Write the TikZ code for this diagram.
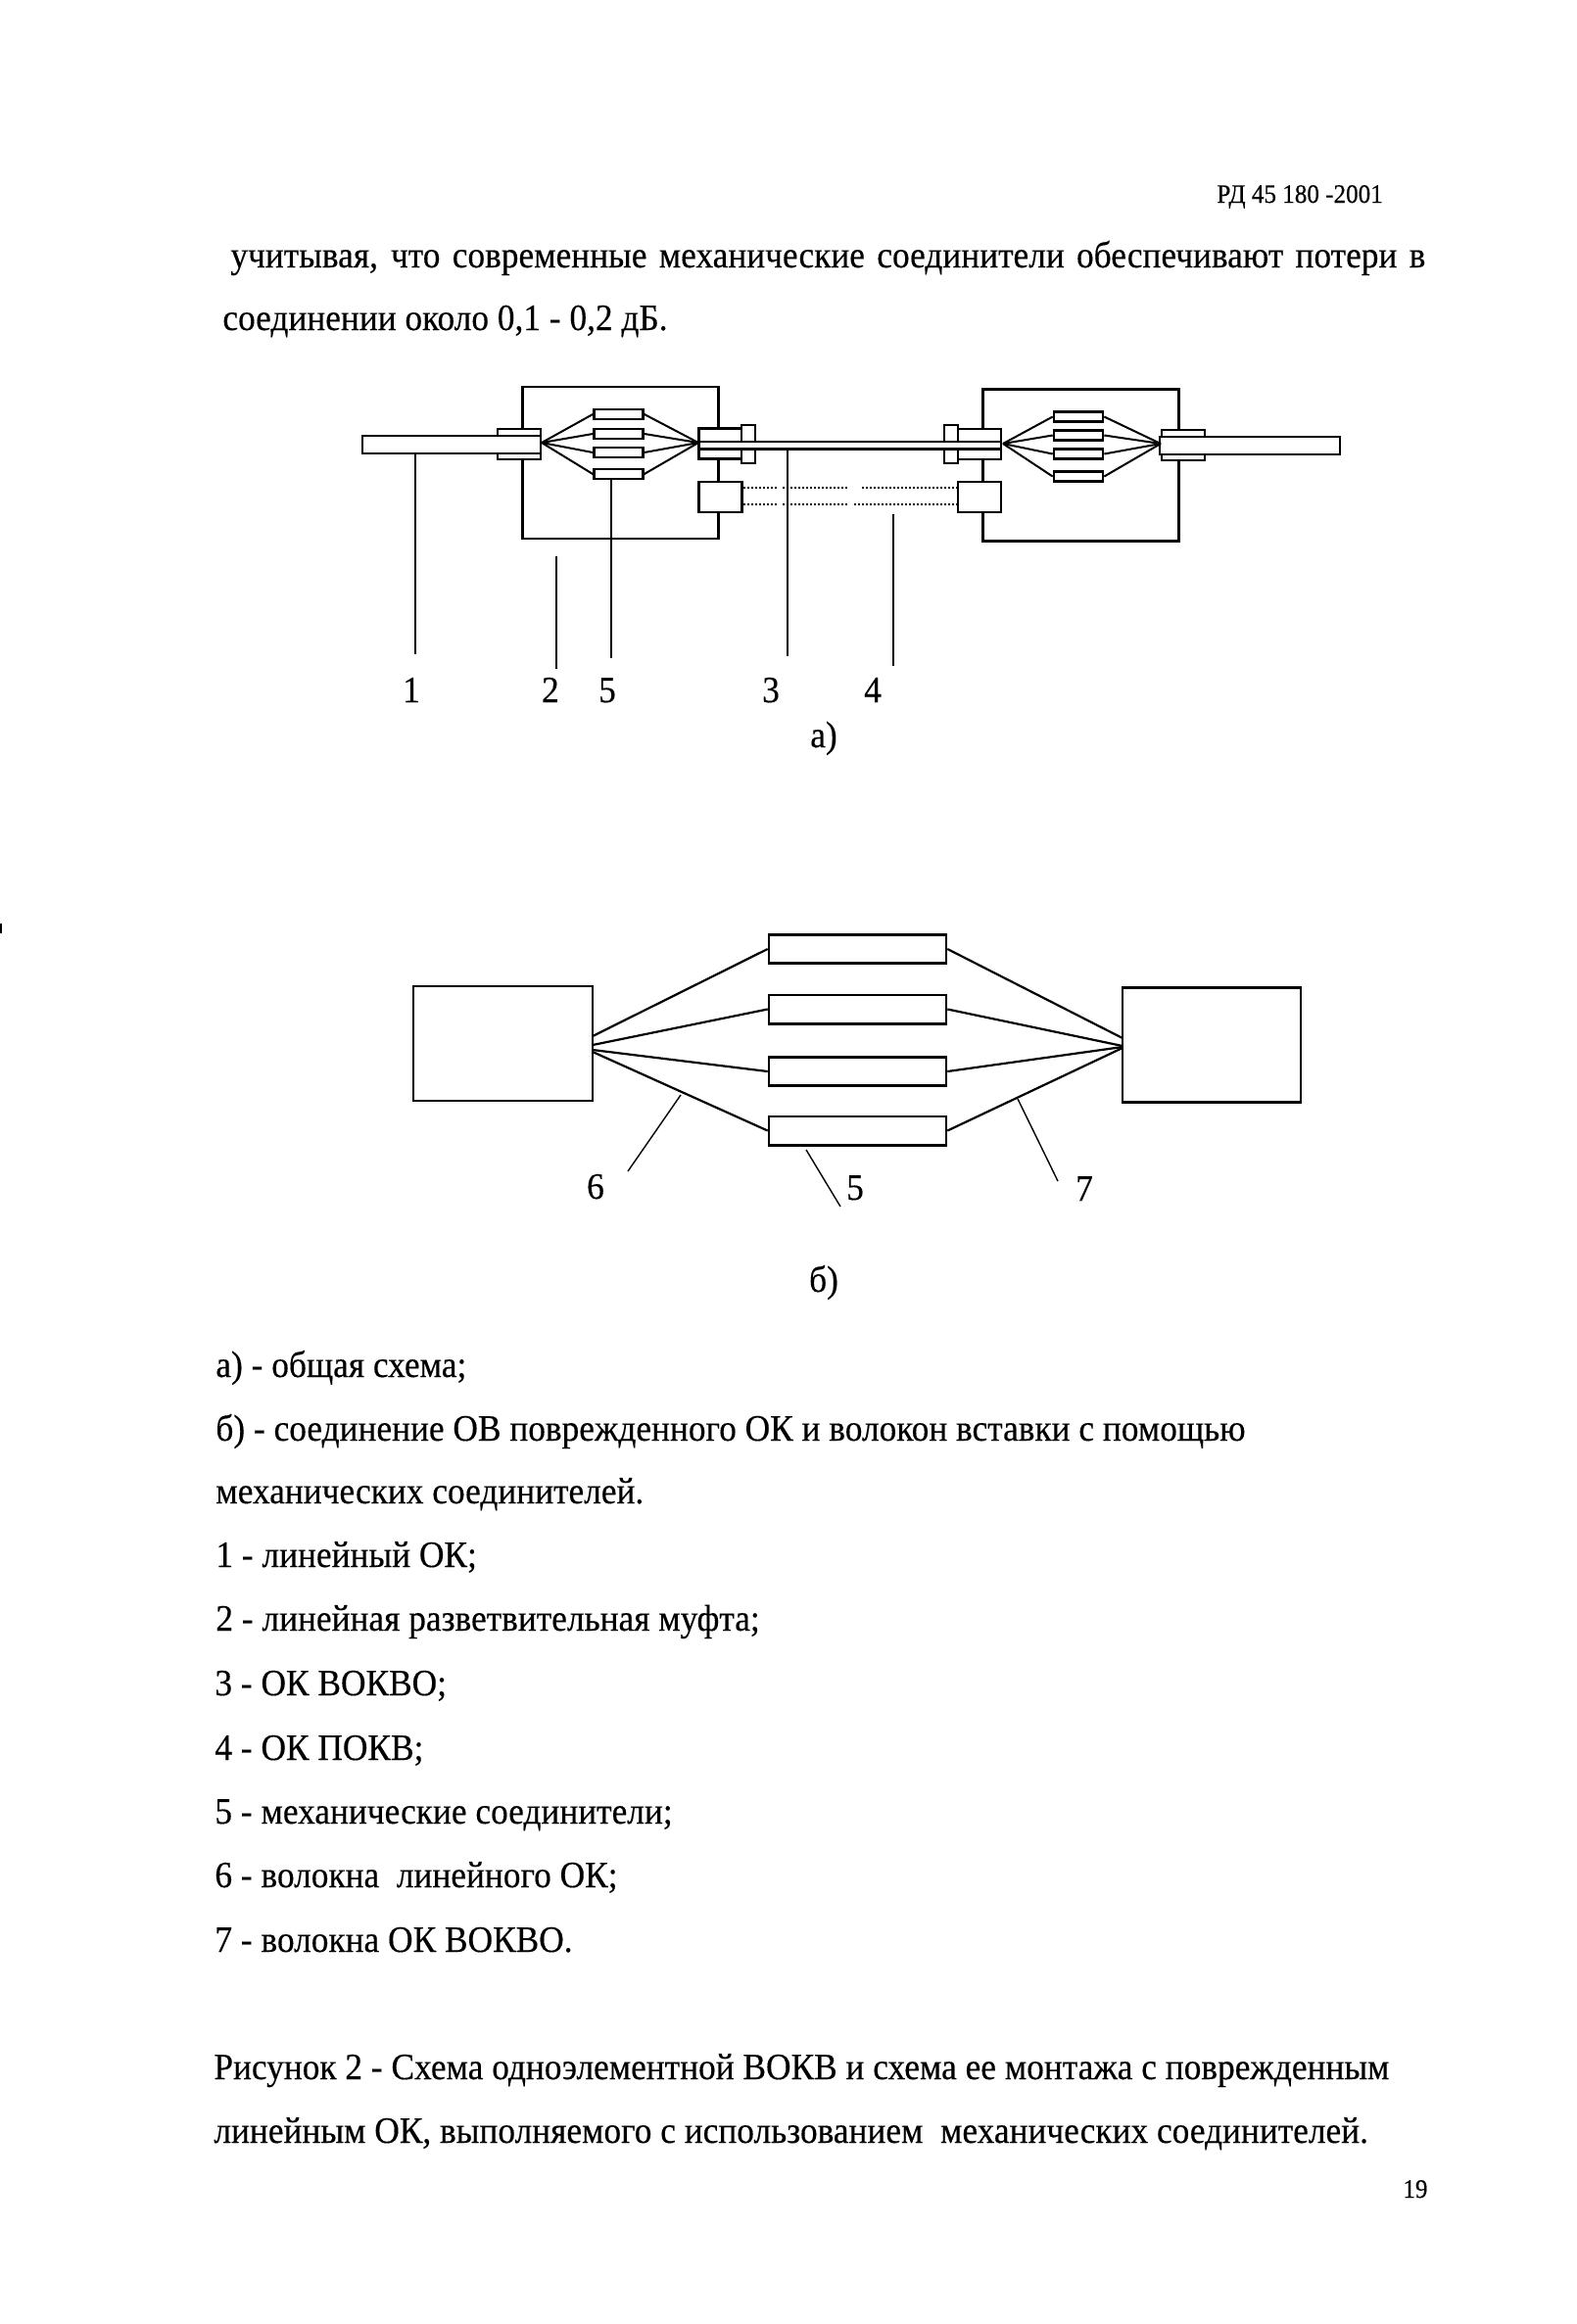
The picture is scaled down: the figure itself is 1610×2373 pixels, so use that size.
\documentclass[tikz,border=0pt]{standalone}
\usepackage{fontspec}
\setmainfont[FakeStretch=0.93,FakeBold=0.3]{Liberation Serif}
\usetikzlibrary{calc,positioning}

\begin{document}
\begin{tikzpicture}[x=0.5pt,y=-0.5pt]
		\tikzstyle{txt}=[anchor=base west,inner sep=0pt,font=\fontsize{19}{22}\selectfont]
		\tikzstyle{num}=[anchor=base,inner sep=0pt,font=\fontsize{19}{22}\selectfont]
		\tikzstyle{small}=[anchor=base west,inner sep=0pt,font=\fontsize{13.5}{15}\selectfont]
		\tikzstyle{part}=[draw,fill=white,line width=1.3pt,inner sep=0pt]
		\tikzstyle{joint}=[part,minimum width=25pt,minimum height=5pt]
		\tikzstyle{fibre}=[line width=1pt]
		\tikzstyle{leader}=[line width=1pt]
		\tikzstyle{dots}=[line width=1pt,dash pattern=on 1pt off 1pt]
		\tikzstyle{partb}=[draw,fill=white,line width=1.3pt,inner sep=0pt]
		\tikzstyle{jointb}=[partb,minimum width=90.5pt,minimum height=14.7pt]
		\tikzstyle{fibreb}=[line width=1.1pt]
		\tikzstyle{leaderb}=[line width=0.7pt]

		\useasboundingbox (0,0) rectangle (1610,2373);
		\fill[white] (0,0) rectangle (1610,2373);
		\node[fill=black,inner sep=0pt,minimum width=0.8pt,minimum height=5pt](speck) at (0.8,948){};

		% text above
		\node[small](head) at (1242,207){РД 45 180 -2001};
		\node[txt](t1) at (235,273){\hbox to 610pt{\spaceskip=.25em plus 1fil\relax учитывая, что современные механические соединители обеспечивают потери в}};
		\node[txt](t2) at (227,337){соединении около 0,1 - 0,2 дБ.};

		% left splice box
		\node[part,minimum width=100pt,minimum height=77.5pt](box1) at (633.5,472.5){};
		\node[part,minimum width=100pt,minimum height=77.5pt](box2) at (1103.5,475){};

		\node[part,minimum width=22pt,minimum height=15.5pt](col1) at (530,453.5){};
		\node[part,minimum width=91pt,minimum height=9pt](cab1) at (461,454){};
		\node[part,minimum width=22pt,minimum height=15.5pt](col2) at (735.5,453){};
		\node[part,minimum width=7pt,minimum height=19.5pt](fla2) at (764,453.5){};
		\node[part,minimum width=22pt,minimum height=15.5pt](sb1) at (735.5,507.5){};

		\coordinate(fan1) at (553,452);
		\coordinate(fan2) at (713,452);
		\node[joint](sa1) at (631.5,423){};
		\node[joint](sa2) at (631.5,443){};
		\node[joint](sa3) at (631.5,462){};
		\node[joint](sa4) at (631.5,484){};
		\draw[fibre] (fan1) -- (sa1.west);
		\draw[fibre] (fan1) -- (sa2.west);
		\draw[fibre] (fan1) -- (sa3.west);
		\draw[fibre] (fan1) -- (sa4.west);
		\draw[fibre] (sa1.east) -- (fan2);
		\draw[fibre] (sa2.east) -- (fan2);
		\draw[fibre] (sa3.east) -- (fan2);
		\draw[fibre] (sa4.east) -- (fan2);

		% right splice box
		\node[part,minimum width=22pt,minimum height=15.5pt](col3) at (1000,453.5){};
		\node[part,minimum width=7pt,minimum height=19.5pt](fla3) at (971,453.5){};
		\node[part,minimum width=22pt,minimum height=15.5pt](sb2) at (1000,507.5){};
		\node[part,minimum width=22pt,minimum height=15.5pt](col4) at (1208,454.5){};
		\node[part,minimum width=92pt,minimum height=9pt](cab2) at (1276,455){};

		\coordinate(fan3) at (1024,453);
		\coordinate(fan4) at (1185,453);
		\node[joint](sc1) at (1101,425.5){};
		\node[joint](sc2) at (1101,444.5){};
		\node[joint](sc3) at (1101,463.5){};
		\node[joint](sc4) at (1101,486.5){};
		\draw[fibre] (fan3) -- (sc1.west);
		\draw[fibre] (fan3) -- (sc2.west);
		\draw[fibre] (fan3) -- (sc3.west);
		\draw[fibre] (fan3) -- (sc4.west);
		\draw[fibre] (sc1.east) -- (fan4);
		\draw[fibre] (sc2.east) -- (fan4);
		\draw[fibre] (sc3.east) -- (fan4);
		\draw[fibre] (sc4.east) -- (fan4);

		% insert cables
		\node[part,minimum width=154pt,minimum height=3.7pt](cab3) at (868,454.5){};
		\coordinate(d1a) at (793,498);
		\coordinate(d1b) at (799,498);
		\coordinate(d1c) at (867,498);
		\coordinate(d1d) at (880,498);
		\coordinate(d2a) at (793,515);
		\coordinate(d2b) at (799,515);
		\coordinate(d2c) at (865,515);
		\coordinate(d2d) at (872,515);
		\draw[dots] ([yshift=4.75pt]sb1.east) -- (d1a);
		\draw[dots] (d1b) -- (d1c);
		\draw[dots] (d1d) -- ([yshift=4.75pt]sb2.west);
		\draw[dots] ([yshift=-3.75pt]sb1.east) -- (d2a);
		\draw[dots] (d2b) -- (d2c);
		\draw[dots] (d2d) -- ([yshift=-3.75pt]sb2.west);

		% leaders of a)
		\coordinate(l1) at (424,668);
		\coordinate(l2a) at (568,568);
		\coordinate(l2) at (568,683);
		\coordinate(l5) at (624,672);
		\coordinate(l3) at (804,670);
		\coordinate(l4a) at (912,525);
		\coordinate(l4) at (912,680);
		\draw[leader] (cab1.south -| l1) -- (l1);
		\draw[leader] (l2a) -- (l2);
		\draw[leader] (sa4.south -| l5) -- (l5);
		\draw[leader] (cab3.south -| l3) -- (l3);
		\draw[leader] (l4a) -- (l4);

		\node[num](n1) at (420,717){1};
		\node[num](n2) at (562,717){2};
		\node[num](n5) at (620,717){5};
		\node[num](n3) at (787,717){3};
		\node[num](n4) at (891,717){4};
		\node[num](capa) at (841,763){а)};

		% picture b)
		\node[partb,minimum width=91.5pt,minimum height=58.5pt](lbox) at (513.5,1065.5){};
		\node[partb,minimum width=91pt,minimum height=58.5pt](rbox) at (1237,1067){};
		\node[jointb](r1) at (875.5,969){};
		\node[jointb](r2) at (875.5,1030.5){};
		\node[jointb](r3) at (875.5,1094){};
		\node[jointb](r4) at (875.5,1154.5){};

		\coordinate(a1) at (605,1058);
		\coordinate(a2) at (605,1067);
		\coordinate(a3) at (605,1072);
		\coordinate(a4) at (605,1074);
		\coordinate(b1) at (1146,1060);
		\coordinate(b2) at (1146,1068);
		\coordinate(b3) at (1146,1069);
		\coordinate(b4) at (1146,1070);
		\draw[fibreb] (a1) -- (r1.west);
		\draw[fibreb] (a2) -- (r2.west);
		\draw[fibreb] (a3) -- (r3.west);
		\draw[fibreb] (a4) -- (r4.west);
		\draw[fibreb] (r1.east) -- (b1);
		\draw[fibreb] (r2.east) -- (b2);
		\draw[fibreb] (r3.east) -- (b3);
		\draw[fibreb] (r4.east) -- (b4);

		\coordinate(l6a) at (695,1118);
		\coordinate(l6) at (641,1196);
		\coordinate(l5a) at (823,1174);
		\coordinate(l5b) at (858,1232);
		\coordinate(l7a) at (1039,1122);
		\coordinate(l7) at (1080,1206);
		\draw[leaderb] (l6a) -- (l6);
		\draw[leaderb] (l5a) -- (l5b);
		\draw[leaderb] (l7a) -- (l7);

		\node[num](n6b) at (608,1224){6};
		\node[num](n5b) at (873,1225){5};
		\node[num](n7b) at (1107,1226){7};
		\node[num](capb) at (841,1319){б)};

		% text below
		\node[txt](k1) at (220,1406){а) - общая схема;};
		\node[txt](k2) at (220,1471){б) - соединение ОВ поврежденного ОК и волокон вставки с помощью};
		\node[txt](k3) at (220,1535){механических соединителей.};
		\node[txt](k4) at (220,1600){1 - линейный ОК;};
		\node[txt](k5) at (220,1665){2 - линейная разветвительная муфта;};
		\node[txt](k6) at (219,1731){3 - ОК ВОКВО;};
		\node[txt](k7) at (219,1797){4 - ОК ПОКВ;};
		\node[txt](k8) at (219,1862){5 - механические соединители;};
		\node[txt](k9) at (219,1927){6 - волокна\ \ линейного ОК;};
		\node[txt](k10) at (219,1993){7 - волокна ОК ВОКВО.};
		\node[txt](c1) at (218,2123){Рисунок 2 - Схема одноэлементной ВОКВ и схема ее монтажа с поврежденным};
		\node[txt](c2) at (218,2188){линейным ОК, выполняемого с использованием\ \ механических соединителей.};
		\node[small](page) at (1432,2244){19};
\end{tikzpicture}
\end{document}
